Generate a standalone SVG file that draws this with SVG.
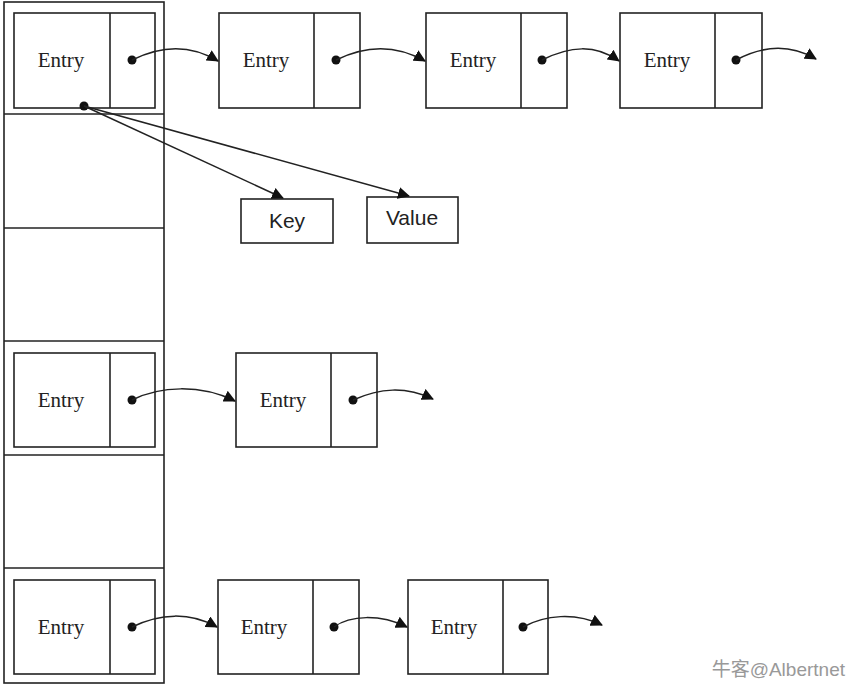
<svg xmlns="http://www.w3.org/2000/svg" width="855" height="690" viewBox="0 0 855 690">
<defs>
<marker id="ah" viewBox="0 0 12 12" refX="11" refY="6" markerWidth="12" markerHeight="12" markerUnits="userSpaceOnUse" orient="auto">
<path d="M0,0 L12,6 L0,12 Z" fill="#111"/>
</marker>
</defs>
<style>
.box{fill:#fff;stroke:#222;stroke-width:1.6}
.ln{stroke:#222;stroke-width:1.6;fill:none}
.t{font-family:"Liberation Serif","Times New Roman",serif;font-size:21px;fill:#222;text-anchor:middle}
.k{font-family:"Liberation Sans",Arial,sans-serif;font-size:21px;fill:#222;text-anchor:middle}
.c{stroke:#222;stroke-width:1.5;fill:none;marker-end:url(#ah)}
.dot{fill:#111}
</style>
<rect width="855" height="690" fill="#fff"/>
<g id="table">
<rect class="box" x="4" y="2" width="160" height="681"/>
<line class="ln" x1="4" y1="114" x2="164" y2="114"/>
<line class="ln" x1="4" y1="228" x2="164" y2="228"/>
<line class="ln" x1="4" y1="341" x2="164" y2="341"/>
<line class="ln" x1="4" y1="455" x2="164" y2="455"/>
<line class="ln" x1="4" y1="568" x2="164" y2="568"/>
</g>
<g id="e1a"><rect class="box" x="14" y="13" width="141" height="95"/><line class="ln" x1="110" y1="13" x2="110" y2="108"/><text class="t" x="61" y="67">Entry</text><circle class="dot" cx="132" cy="60" r="4.5"/></g>
<g id="e1b"><rect class="box" x="219" y="13" width="141" height="95"/><line class="ln" x1="314" y1="13" x2="314" y2="108"/><text class="t" x="266" y="67">Entry</text><circle class="dot" cx="336" cy="60" r="4.5"/></g>
<g id="e1c"><rect class="box" x="426" y="13" width="141" height="95"/><line class="ln" x1="521" y1="13" x2="521" y2="108"/><text class="t" x="473" y="67">Entry</text><circle class="dot" cx="542" cy="60" r="4.5"/></g>
<g id="e1d"><rect class="box" x="620" y="13" width="142" height="95"/><line class="ln" x1="715" y1="13" x2="715" y2="108"/><text class="t" x="667" y="67">Entry</text><circle class="dot" cx="736" cy="60" r="4.5"/></g>
<g id="key"><rect class="box" x="241" y="199" width="92" height="44"/><text class="k" x="287" y="228">Key</text></g>
<g id="value"><rect class="box" x="367" y="197" width="91" height="46"/><text class="k" x="412" y="225">Value</text></g>
<g id="e4a"><rect class="box" x="14" y="353" width="141" height="94"/><line class="ln" x1="110" y1="353" x2="110" y2="447"/><text class="t" x="61" y="407">Entry</text><circle class="dot" cx="132" cy="400" r="4.5"/></g>
<g id="e4b"><rect class="box" x="236" y="353" width="141" height="94"/><line class="ln" x1="331" y1="353" x2="331" y2="447"/><text class="t" x="283" y="407">Entry</text><circle class="dot" cx="353" cy="400" r="4.5"/></g>
<g id="e6a"><rect class="box" x="14" y="580" width="141" height="94"/><line class="ln" x1="110" y1="580" x2="110" y2="674"/><text class="t" x="61" y="634">Entry</text><circle class="dot" cx="132" cy="627" r="4.5"/></g>
<g id="e6b"><rect class="box" x="218" y="580" width="141" height="94"/><line class="ln" x1="313" y1="580" x2="313" y2="674"/><text class="t" x="264" y="634">Entry</text><circle class="dot" cx="334" cy="627" r="4.5"/></g>
<g id="e6c"><rect class="box" x="408" y="580" width="140" height="94"/><line class="ln" x1="503" y1="580" x2="503" y2="674"/><text class="t" x="454" y="634">Entry</text><circle class="dot" cx="523" cy="627" r="4.5"/></g>
<circle class="dot" cx="84" cy="106" r="4.5"/>
<g id="connectors">
<path class="c" d="M132,60 C160,46 190,44 218,61"/>
<path class="c" d="M336,60 C364,46 395,44 425,61"/>
<path class="c" d="M542,60 C570,46 595,44 619,61"/>
<path class="c" d="M736,60 C762,46 790,44 816,59"/>
<path class="c" d="M84,106 L283,198"/>
<path class="c" d="M84,106 L409,196"/>
<path class="c" d="M132,400 C160,386 200,384 235,401"/>
<path class="c" d="M353,400 C380,388 405,386 433,399"/>
<path class="c" d="M132,627 C160,613 190,612 217,627"/>
<path class="c" d="M334,627 C350,615 380,614 407,627"/>
<path class="c" d="M523,627 C545,615 575,612 602,625"/>
</g>
<text x="845" y="676" style="font-family:'Liberation Sans','Noto Sans CJK SC',sans-serif;font-size:19px;fill:#999;text-anchor:end">牛客@Albertnet</text>
</svg>
